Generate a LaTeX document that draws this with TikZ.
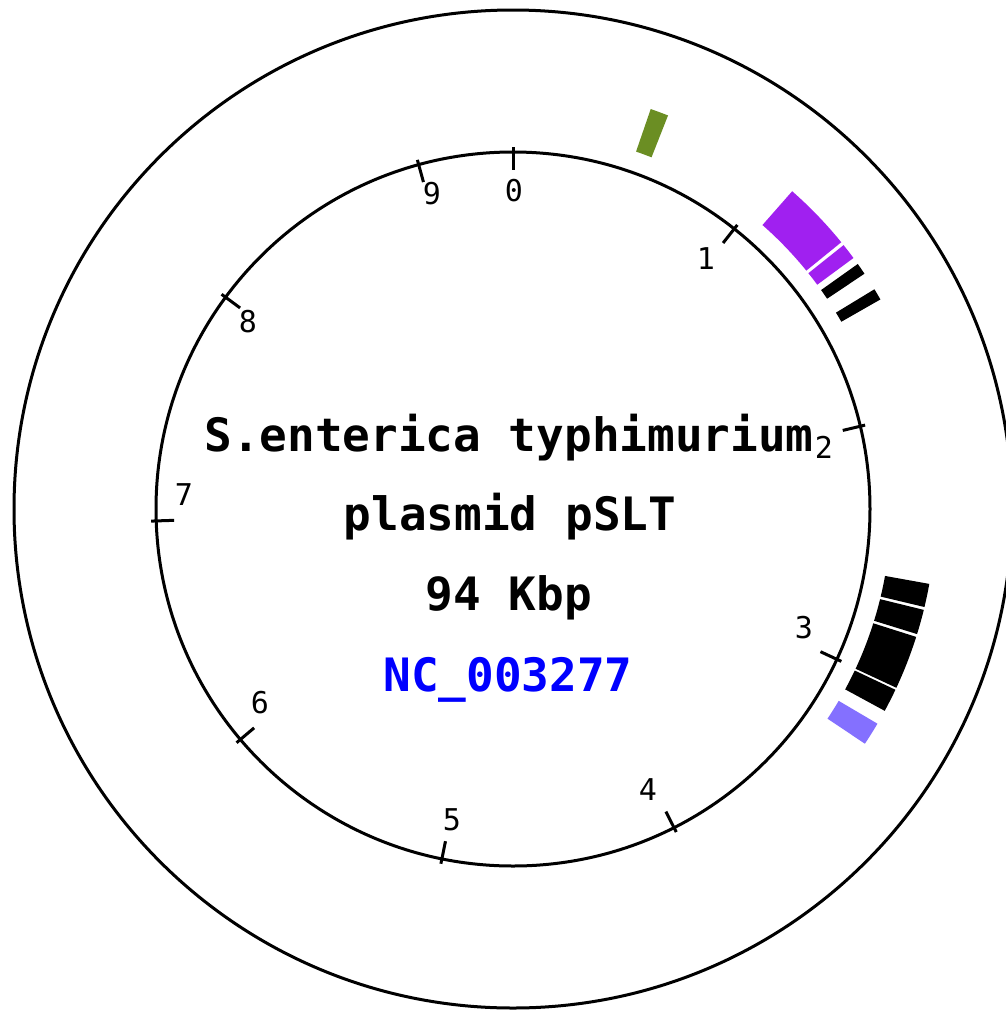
\documentclass[tikz,border=0pt]{standalone}
\usepackage{fontspec}
\newfontfamily\monofam{DejaVu Sans Mono}
\definecolor{geneolive}{HTML}{6B8E23}
\definecolor{genepurple}{HTML}{A020F0}
\definecolor{geneslate}{HTML}{8470FF}
\definecolor{accblue}{HTML}{0000FF}
\newcommand\genesector[3]{%
  \fill[#1] ([shift={(C)}]#2-90:378) arc[start angle=#2-90, end angle=#3-90, radius=378]
    -- ([shift={(C)}]#3-90:423) arc[start angle=#3-90, end angle=#2-90, radius=423] -- cycle;}
\begin{document}
\begin{tikzpicture}[x=1pt,y=-1pt,
  ring/.style={line width=3pt, draw=black},
  tickmark/.style={line width=3pt, draw=black},
  ticklabel/.style={font=\monofam\fontsize{30}{30}\selectfont, inner sep=0pt},
  titletext/.style={font=\monofam\bfseries\fontsize{46}{50}\selectfont, anchor=base, inner sep=0pt}]
\useasboundingbox (0,0) rectangle (1005,1010);
\fill[white] (0,0) rectangle (1005,1010);
\coordinate (C) at (513,509);
% gene features
\genesector{geneolive}{19.0}{21.5}
\genesector{genepurple}{41.3}{50.9}
\genesector{genepurple}{51.4}{53.6}
\genesector{black}{54.6}{56.2}
\genesector{black}{58.7}{60.3}
\genesector{black}{100.2}{103.4}
\genesector{black}{103.8}{107.2}
\genesector{black}{107.6}{115.0}
\genesector{black}{115.3}{118.5}
\genesector{geneslate}{120.5}{123.7}
% rings
\draw[ring] (C) circle[radius=499];
\draw[ring] (C) circle[radius=357];
% ticks
\foreach \k [evaluate=\k as \ang using \k*360/9.4-90] in {0,...,9}
  \draw[tickmark] ([shift={(C)}]\ang:362) -- ([shift={(C)}]\ang:339);
% tick labels
\node[ticklabel] (l0) at (514,191) {0};
\node[ticklabel] (l1) at (706,259) {1};
\node[ticklabel] (l2) at (824,447) {2};
\node[ticklabel] (l3) at (804,628) {3};
\node[ticklabel] (l4) at (648,790) {4};
\node[ticklabel] (l5) at (452,820) {5};
\node[ticklabel] (l6) at (260,703) {6};
\node[ticklabel] (l7) at (184,495) {7};
\node[ticklabel] (l8) at (248,322) {8};
\node[ticklabel] (l9) at (432,194) {9};
% title
\node[titletext] (t1) at (509,451) {S.enterica typhimurium};
\node[titletext] (t2) at (510,530) {plasmid pSLT};
\node[titletext] (t3) at (509,610) {94 Kbp};
\node[titletext, text=accblue] (t4) at (508,691) {NC\_003277};
\end{tikzpicture}
\end{document}
